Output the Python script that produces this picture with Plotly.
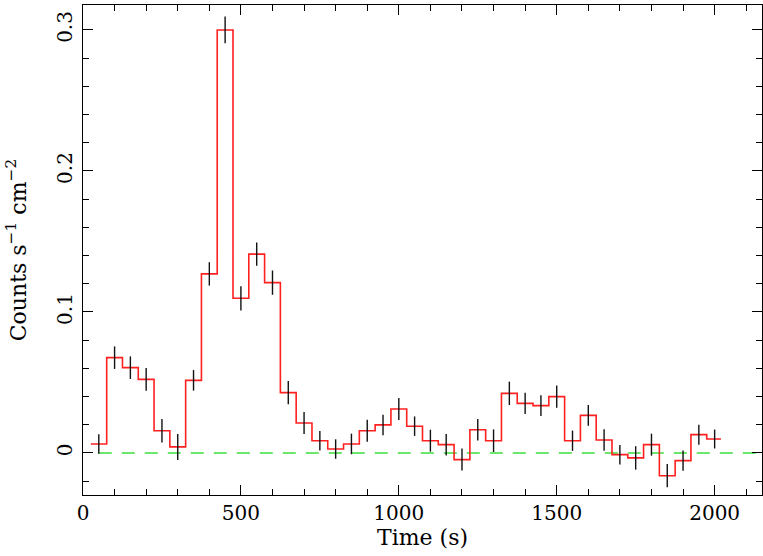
import plotly.graph_objects as go

# bin centres (s) and rates
time = [50, 100, 150, 200, 250, 300, 350, 400, 450, 500,
        550, 600, 650, 700, 750, 800, 850, 900, 950, 1000,
        1050, 1100, 1150, 1200, 1250, 1300, 1350, 1400, 1450, 1500,
        1550, 1600, 1650, 1700, 1750, 1800, 1850, 1900, 1950, 2000]
rate = [0.0064, 0.0676, 0.0605, 0.0522, 0.0158, 0.0043, 0.0515, 0.127, 0.300, 0.1097,
        0.141, 0.1208, 0.0428, 0.0213, 0.0087, 0.0028, 0.0064, 0.0158, 0.0199, 0.0312,
        0.0190, 0.0087, 0.0059, -0.0047, 0.0165, 0.0087, 0.0423, 0.0352, 0.0336, 0.0400,
        0.0087, 0.0267, 0.0092, -0.0012, -0.0035, 0.0059, -0.0161, -0.0054, 0.0130, 0.0099]
rate_err = [0.0069, 0.0080, 0.0080, 0.0080, 0.0083, 0.0092, 0.0073, 0.0083, 0.0095, 0.0086,
            0.0083, 0.0086, 0.0083, 0.0078, 0.0069, 0.0069, 0.0073, 0.0078, 0.0073, 0.0078,
            0.0069, 0.0078, 0.0076, 0.0078, 0.0076, 0.0080, 0.0083, 0.0076, 0.0074, 0.0079,
            0.0072, 0.0074, 0.0076, 0.0069, 0.0083, 0.0078, 0.0082, 0.0072, 0.0071, 0.0067]
bin_half = 25
last_edge = 2020

FONT = "DejaVu Serif"

# step outline: left edges + final right edge
step_x = [t - bin_half for t in time] + [last_edge]
step_y = rate + [rate[-1]]

fig = go.Figure()

fig.add_trace(go.Scatter(
    x=[time[0], 2200], y=[0, 0], mode="lines",
    line=dict(color="#3de03d", width=1.3, dash="13px,10px"),
    hoverinfo="skip"))

fig.add_trace(go.Scatter(
    x=step_x, y=step_y, mode="lines", line_shape="hv",
    line=dict(color="#ff2020", width=1.6)))

fig.add_trace(go.Scatter(
    x=time, y=rate, mode="markers",
    marker=dict(size=0.1, color="black", opacity=0),
    error_y=dict(type="data", array=rate_err, visible=True,
                 color="#111111", thickness=1.4, width=0)))

axis_common = dict(
    showline=True, linecolor="black", linewidth=1.4, mirror="allticks",
    ticks="inside", ticklen=10, tickwidth=1.2, tickcolor="black",
    showgrid=False, zeroline=False, automargin=False,
    tickfont=dict(family=FONT, size=20, color="black"),
)

fig.update_xaxes(
    range=[0, 2150], tick0=0, dtick=500,
    minor=dict(dtick=100, ticks="inside", ticklen=6, tickwidth=1.2, tickcolor="black"),
    title=dict(text="Time (s)", font=dict(family=FONT, size=22, color="black"), standoff=2),
    ticklabelstandoff=0,
    **axis_common)

fig.update_yaxes(
    range=[-0.0298, 0.3177], tick0=0, dtick=0.1, tickangle=-90,
    minor=dict(dtick=0.02, ticks="inside", ticklen=6, tickwidth=1.2, tickcolor="black"),
    title=dict(text="Counts s<sup>−1</sup> cm<sup>−2</sup>",
               font=dict(family=FONT, size=22, color="black"), standoff=20),
    ticklabelstandoff=2,
    **axis_common)

fig.update_layout(
    width=763, height=556,
    margin=dict(l=83, r=1, t=5, b=61),
    plot_bgcolor="white", paper_bgcolor="white",
    showlegend=False,
)

# drop the default page margin so the figure sits at the window corner
fig.write_html(
    "out.html",
    config={"displayModeBar": False},
    post_script="document.body.style.margin='0';document.body.style.overflow='hidden';",
)
